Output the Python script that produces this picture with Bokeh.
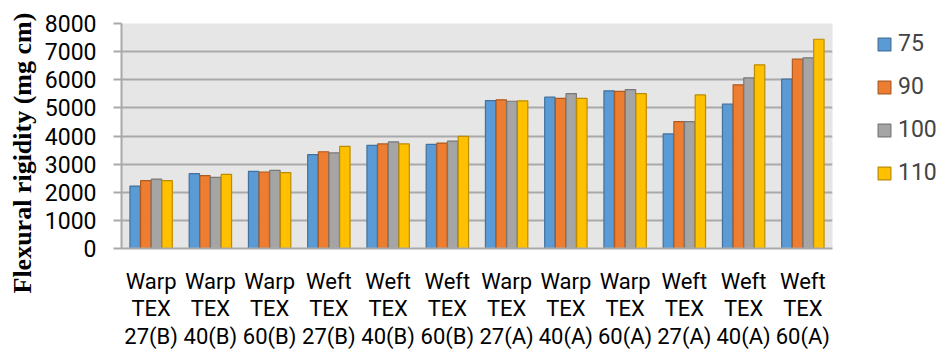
from bokeh.plotting import figure
from bokeh.models import FactorRange, Range1d, ColumnDataSource, Legend, LegendItem, SingleIntervalTicker, Title
from bokeh.transform import dodge
from bokeh.embed import file_html
from bokeh.resources import INLINE

categories = ["Warp\nTEX\n27(B)", "Warp\nTEX\n40(B)", "Warp\nTEX\n60(B)",
              "Weft\nTEX\n27(B)", "Weft\nTEX\n40(B)", "Weft\nTEX\n60(B)",
              "Warp\nTEX\n27(A)", "Warp\nTEX\n40(A)", "Warp\nTEX\n60(A)",
              "Weft\nTEX\n27(A)", "Weft\nTEX\n40(A)", "Weft\nTEX\n60(A)"]
series_names = ["75", "90", "100", "110"]
v75 = [2220, 2660, 2740, 3340, 3670, 3700, 5260, 5380, 5605, 4075, 5130, 6020]
v90 = [2410, 2590, 2720, 3440, 3720, 3750, 5285, 5340, 5590, 4510, 5820, 6730]
v100 = [2470, 2530, 2780, 3400, 3790, 3820, 5235, 5510, 5650, 4510, 6070, 6780]
v110 = [2410, 2635, 2700, 3630, 3720, 3990, 5250, 5340, 5510, 5460, 6530, 7440]

fills = ["#5B9BD5", "#ED7D31", "#A5A5A5", "#FFC000"]
lines = ["#41719C", "#AE5A21", "#787878", "#BC8C00"]

src = ColumnDataSource(dict(cat=categories, v75=v75, v90=v90, v100=v100, v110=v110))

p = figure(frame_width=711, frame_height=225, x_range=FactorRange(*categories), y_range=Range1d(0, 8000),
           output_backend="svg", toolbar_location=None,
           min_border_left=121, min_border_right=114, min_border_top=23, min_border_bottom=102)
p.background_fill_color = "#E7E6E6"
p.border_fill_color = "white"
p.outline_line_color = None

cols = ["v75", "v90", "v100", "v110"]
offsets = [-0.27, -0.09, 0.09, 0.27]
renderers = []
for c, off, f, l in zip(cols, offsets, fills, lines):
    r = p.vbar(x=dodge("cat", off, range=p.x_range), top=c, width=0.175, source=src,
               fill_color=f, line_color=l, line_width=1.2)
    renderers.append(r)

p.xgrid.grid_line_color = None
p.ygrid.grid_line_color = "#A9A9A9"
p.ygrid.grid_line_width = 2

p.yaxis.ticker = SingleIntervalTicker(interval=1000)
p.yaxis.axis_line_color = "#A9A9A9"
p.yaxis.axis_line_width = 2
p.yaxis.major_tick_line_color = "#A9A9A9"
p.yaxis.major_tick_line_width = 2
p.yaxis.major_tick_out = 8
p.yaxis.major_tick_in = 0
p.yaxis.minor_tick_line_color = None
p.yaxis.major_label_standoff = 17
p.yaxis.major_label_text_font = "Roboto"
p.yaxis.major_label_text_font_size = "23px"
p.yaxis.major_label_text_color = "#000000"

ytitle = Title(text="Flexural rigidity (mg cm)", align="left", offset=-45,
               text_font="Liberation Serif", text_font_style="bold", text_font_size="26px",
               text_color="#000000", standoff=9)
p.add_layout(ytitle, "left")

p.xaxis.axis_line_color = "#A9A9A9"
p.xaxis.axis_line_width = 2
p.xaxis.major_tick_line_color = None
p.xaxis.minor_tick_line_color = None
p.xaxis.major_label_standoff = 14
p.xaxis.major_label_text_font = "Roboto"
p.xaxis.major_label_text_font_size = "22px"
p.xaxis.major_label_text_color = "#000000"
p.xaxis.major_label_text_line_height = 1.1

legend = Legend(items=[LegendItem(label=n, renderers=[r]) for n, r in zip(series_names, renderers)],
                location=(44, 62), padding=0, margin=0, spacing=16,
                glyph_width=16, glyph_height=16, label_standoff=6,
                label_text_font="Roboto", label_text_font_size="23px",
                border_line_color=None, background_fill_alpha=0)
p.add_layout(legend, "right")

open("out.html", "w").write(file_html(p, INLINE))
